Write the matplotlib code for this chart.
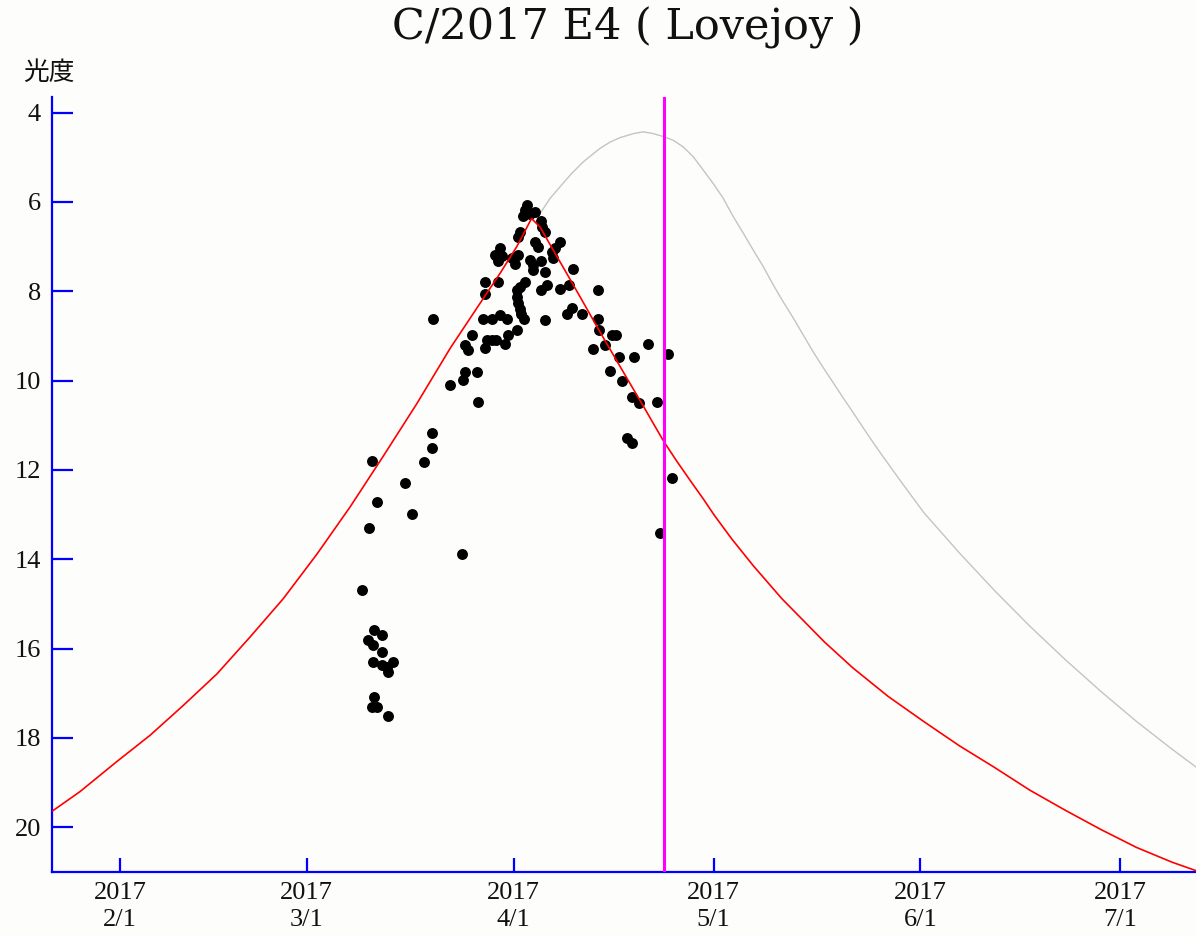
import matplotlib
matplotlib.use('Agg')
import matplotlib.pyplot as plt

# x values: days since 2017-01-01 00:00 (Feb 1 = 31); y values: magnitude (光度)
obs_day = [
    67.33, 68.38, 68.74, 69.49,
    69.13, 70.24, 68.23, 68.98, 70.24, 68.98, 70.24, 71.97, 71.22, 70.99,
    69.13, 68.74, 69.49, 71.22,
    73.77, 74.82, 76.62, 77.73, 77.73, 77.97,
    80.48, 82.32, 82.47, 82.72, 84.48, 84.72,
    82.72, 83.22, 83.73,
    85.47, 86.73, 87.97, 88.98,
    85.72, 85.98, 86.73, 87.37,
    89.22, 88.72, 90.48,
    85.72, 85.72, 87.72,
    87.97, 87.22, 88.27, 87.72,
    90.48, 90.48, 90.67, 90.97, 91.19, 91.57,
    90.97, 91.72,
    89.73, 90.72, 90.22,
    90.97, 90.72,
    91.97, 91.72, 92.47, 93.22, 91.46,
    94.12, 94.27, 94.72,
    93.22, 93.71,
    96.97, 96.22, 95.72, 95.96,
    92.47, 92.97, 94.12, 92.92, 94.72,
    98.96,
    95.02, 94.12, 96.97, 98.32, 102.59,
    94.72, 97.97, 98.72, 100.22, 102.59, 102.81,
    101.96, 103.71, 104.72, 105.36,
    105.86, 108.06, 110.21, 113.11,
    104.46, 106.22, 107.72, 108.86, 111.55,
    107.06, 107.72, 113.80, 111.96,
]
obs_mag = [
    14.69, 13.30, 11.80, 12.71,
    15.59, 15.70, 15.81, 15.92, 16.07, 16.30, 16.37, 16.30, 16.52, 16.41,
    17.08, 17.30, 17.30, 17.51,
    12.29, 12.99, 11.82, 11.50, 11.17, 8.61,
    10.10, 13.89, 9.99, 9.80, 9.80, 10.48,
    9.21, 9.32, 8.98,
    8.61, 8.61, 8.53, 8.61,
    9.28, 9.09, 9.09, 9.09,
    8.98, 9.17, 8.87,
    8.05, 7.79, 7.79,
    7.03, 7.19, 7.21, 7.33,
    7.97, 8.13, 8.27, 8.40, 8.51, 8.62,
    7.91, 7.79,
    7.26, 7.19, 7.38,
    6.67, 6.78,
    6.07, 6.18, 6.26, 6.22, 6.32,
    6.43, 6.56, 6.67,
    6.89, 7.00,
    6.89, 7.04, 7.12, 7.26,
    7.30, 7.41, 7.33, 7.53, 7.57,
    7.49,
    7.86, 7.97, 7.95, 7.86, 7.97,
    8.65, 8.50, 8.38, 8.50, 8.62, 8.87,
    9.30, 9.21, 8.98, 8.98,
    9.48, 9.47, 9.19, 9.41,
    9.78, 10.01, 10.36, 10.50, 10.48,
    11.29, 11.39, 12.19, 13.41,
]

red_day = [20.91, 25.0, 30.5, 35.5, 40.49, 45.5, 50.49, 55.48, 60.49, 65.48,
           70.47, 75.48, 80.48, 84.97, 87.97, 90.48, 92.7,
           93.97, 95.96, 97.97, 99.96, 102.96, 105.96, 107.96, 109.46, 110.96,
           112.56, 114.46, 116.46, 118.46, 120.13, 122.75, 125.98, 130.22,
           136.61, 140.87, 146.17, 151.49, 156.80, 162.12, 167.43, 172.75,
           178.08, 183.40, 188.72, 192.32]
red_mag = [19.63, 19.20, 18.53, 17.94, 17.27, 16.57, 15.74, 14.88, 13.89, 12.83,
           11.69, 10.52, 9.28, 8.27, 7.60, 7.00, 6.37,
           6.56, 7.08, 7.60, 8.12, 8.91, 9.68, 10.19, 10.57, 10.96,
           11.37, 11.80, 12.23, 12.65, 13.02, 13.55, 14.15, 14.88,
           15.85, 16.43, 17.07, 17.63, 18.17, 18.66, 19.17, 19.62,
           20.05, 20.45, 20.78, 20.97]

gray_day = [92.7, 93.97, 95.47, 96.97, 98.72, 100.46, 102.96, 104.46, 105.96,
            107.96, 109.46, 110.96, 112.56, 113.96, 115.46, 116.96, 118.46,
            119.95, 121.45, 122.95, 124.45, 125.95, 127.45, 128.95, 130.45,
            131.95, 133.44, 134.94, 136.44, 137.94, 139.44, 140.94, 142.44,
            143.94, 145.44, 146.94, 147.94, 151.49, 156.80, 162.12, 167.43,
            172.75, 178.08, 183.40, 188.72, 192.32]
gray_mag = [6.37, 6.26, 5.92, 5.66, 5.36, 5.10, 4.80, 4.66, 4.56,
            4.47, 4.43, 4.47, 4.54, 4.62, 4.77, 4.99, 5.29,
            5.59, 5.92, 6.33, 6.70, 7.08, 7.45, 7.86, 8.24,
            8.60, 8.98, 9.36, 9.71, 10.05, 10.39, 10.72, 11.06,
            11.39, 11.71, 12.02, 12.23, 12.95, 13.85, 14.70, 15.50,
            16.25, 16.96, 17.63, 18.25, 18.65]

now_day = 112.5
xtick_day = [31, 59, 90, 120, 151, 181]
xtick_labels = ['2017\n2/1', '2017\n3/1', '2017\n4/1', '2017\n5/1', '2017\n6/1', '2017\n7/1']
ytick_vals = [4, 6, 8, 10, 12, 14, 16, 18, 20]
title_text = 'C/2017 E4 ( Lovejoy )'
ylabel_text = '光度'

BG = '#fdfdfb'
BLUE = '#0000ff'
SERIF = ['Liberation Serif', 'DejaVu Serif']

W, H = 1196, 936
fig = plt.figure(figsize=(W / 100, H / 100), dpi=100, facecolor=BG)
ax = fig.add_axes([52 / W, 64 / H, 1144 / W, 775 / H])
ax.set_facecolor(BG)

ax.scatter(obs_day, obs_mag, s=62, c='black', linewidths=0, zorder=3)
ax.plot(gray_day, gray_mag, color='#c4c4c4', lw=1.0, zorder=2)
ax.plot(red_day, red_mag, color='#ff0000', lw=1.2, zorder=4)
ax.axvline(now_day, color='#ff00ff', lw=2.2, zorder=5)

ax.set_xlim(20.8, 192.32)
ax.set_ylim(21.0, 3.65)

for s in ('top', 'right'):
    ax.spines[s].set_visible(False)
for s in ('left', 'bottom'):
    ax.spines[s].set_color(BLUE)
    ax.spines[s].set_linewidth(1.6)

ax.set_xticks(xtick_day)
ax.set_xticklabels(xtick_labels, linespacing=1.3)
ax.set_yticks(ytick_vals)
ax.set_yticklabels([str(v) for v in ytick_vals])
ax.tick_params(axis='x', direction='in', length=10, width=1.6, color=BLUE, pad=7,
               labelsize=19)
ax.tick_params(axis='y', direction='in', length=15, width=1.6, color=BLUE, pad=8,
               labelsize=19)
for lab in ax.get_xticklabels() + ax.get_yticklabels():
    lab.set_family(SERIF)
    lab.set_color('#111111')

fig.text(628 / W, 1 - 28 / H, title_text, ha='center', va='center',
         fontsize=31, family=['DejaVu Serif'], color='#111111')
fig.text(49 / W, 1 - 73 / H, ylabel_text, ha='center', va='center',
         fontsize=18.5, family=['Noto Sans CJK JP', 'DejaVu Sans'], color='#111111')

fig.savefig('out.png', dpi=100, facecolor=BG)
